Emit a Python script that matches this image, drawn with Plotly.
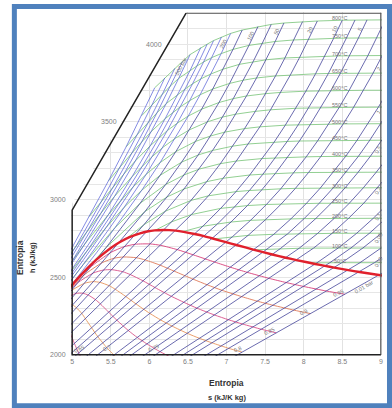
import numpy as np
import plotly.graph_objects as go

# ---------------- data ----------------
ISOBAR_P = [0.01, 0.02, 0.03, 0.05, 0.07, 0.1, 0.2, 0.3, 0.5, 0.7, 1, 2, 3, 5, 7,
            10, 20, 30, 50, 70, 100, 150, 200, 250, 300, 350, 400, 500, 600, 700, 850, 1000]

# temperature (degC) of each isobar point (None = wet-region point)
ISOBAR_T = [
    [None, 7, 50],
    [None, 17.5, 50, 100],
    [None, 24.1, 50, 100],
    [None, 32.9, 50, 100, 150],
    [None, 39.0, 50, 100, 150, 200],
    [None, 45.8, 50, 100, 150, 200, 250],
    [None, 60.1, 100, 150, 200, 250, 300, 350],
    [None, 69.1, 100, 150, 200, 250, 300, 350, 400],
    [None, 81.3, 100, 150, 200, 250, 300, 350, 400, 450],
    [None, 90.0, 100, 150, 200, 250, 300, 350, 400, 450, 500, 550],
    [None, 99.6, 150, 200, 250, 300, 350, 400, 450, 500, 550, 600],
    [None, 120.2, 150, 200, 250, 300, 350, 400, 450, 500, 550, 600, 650, 700],
    [None, 133.5, 150, 200, 250, 300, 350, 400, 450, 500, 550, 600, 650, 700, 750, 800],
    [None, 151.8, 200, 250, 300, 350, 400, 450, 500, 550, 600, 650, 700, 750, 800],
    [None, 165.0, 200, 250, 300, 350, 400, 450, 500, 550, 600, 650, 700, 750, 800],
    [None, 179.9, 200, 250, 300, 350, 400, 450, 500, 550, 600, 650, 700, 750, 800],
    [None, 212.4, 250, 300, 350, 400, 450, 500, 550, 600, 650, 700, 750, 800],
    [None, 233.9, 250, 300, 350, 400, 450, 500, 550, 600, 650, 700, 750, 800],
    [None, 264.0, 300, 350, 400, 450, 500, 550, 600, 650, 700, 750, 800],
    [None, 285.9, 300, 350, 400, 450, 500, 550, 600, 650, 700, 750, 800],
    [None, 311.1, 350, 400, 450, 500, 550, 600, 650, 700, 750, 800],
    [None, 342.2, 350, 400, 450, 500, 550, 600, 650, 700, 750, 800],
    [None, 365.8, 380, 400, 450, 500, 550, 600, 650, 700, 750, 800],
    [375, 400, 425, 450, 500, 550, 600, 650, 700, 750, 800],
    [375, 400, 425, 450, 500, 550, 600, 650, 700, 750, 800],
    [400, 425, 450, 500, 550, 600, 650, 700, 750, 800],
    [400, 425, 450, 500, 550, 600, 650, 700, 750, 800],
    [400, 450, 500, 550, 600, 650, 700, 750, 800],
    [450, 500, 550, 600, 650, 700, 750, 800],
    [450, 500, 550, 600, 650, 700, 750, 800],
    [450, 500, 550, 600, 650, 700, 750, 800],
    [450, 500, 550, 600, 650, 700, 750, 800],
]
ISOBAR_S = [
    [6.785, 8.975, 9.237],
    [6.544, 8.723, 8.917, 9.191],
    [6.405, 8.578, 8.730, 9.004],
    [6.235, 8.395, 8.494, 8.768, 9.008],
    [6.121, 8.276, 8.339, 8.613, 8.853, 9.069],
    [6.004, 8.149, 8.174, 8.448, 8.688, 8.904, 9.100],
    [5.780, 7.907, 8.128, 8.368, 8.584, 8.780, 8.961, 9.129],
    [5.650, 7.769, 7.941, 8.181, 8.397, 8.593, 8.774, 8.942, 9.101],
    [5.490, 7.593, 7.695, 7.940, 8.158, 8.356, 8.538, 8.706, 8.865, 9.013],
    [5.386, 7.479, 7.535, 7.790, 8.006, 8.202, 8.383, 8.551, 8.710, 8.858, 9.000, 9.134],
    [5.280, 7.359, 7.613, 7.834, 8.033, 8.216, 8.385, 8.544, 8.692, 8.834, 8.968, 9.098],
    [5.077, 7.127, 7.280, 7.507, 7.709, 7.893, 8.063, 8.222, 8.370, 8.513, 8.647, 8.777, 8.900, 9.019],
    [4.963, 6.992, 7.078, 7.312, 7.517, 7.703, 7.874, 8.033, 8.182, 8.325, 8.460, 8.589, 8.712, 8.832, 8.945, 9.057],
    [4.825, 6.821, 7.059, 7.271, 7.460, 7.633, 7.794, 7.945, 8.087, 8.222, 8.352, 8.476, 8.595, 8.710, 8.821],
    [4.738, 6.708, 6.882, 7.103, 7.297, 7.472, 7.634, 7.787, 7.929, 8.065, 8.195, 8.320, 8.439, 8.554, 8.665],
    [4.648, 6.587, 6.694, 6.925, 7.123, 7.301, 7.465, 7.619, 7.762, 7.899, 8.029, 8.154, 8.273, 8.388, 8.500],
    [4.488, 6.341, 6.545, 6.766, 6.956, 7.127, 7.285, 7.432, 7.571, 7.702, 7.828, 7.949, 8.065, 8.177],
    [4.404, 6.187, 6.287, 6.539, 6.743, 6.921, 7.083, 7.234, 7.374, 7.508, 7.635, 7.757, 7.874, 7.986],
    [4.309, 5.973, 6.208, 6.449, 6.646, 6.819, 6.976, 7.122, 7.259, 7.389, 7.512, 7.631, 7.744],
    [4.253, 5.813, 5.930, 6.228, 6.448, 6.633, 6.797, 6.947, 7.088, 7.220, 7.345, 7.465, 7.580],
    [4.203, 5.614, 5.944, 6.212, 6.419, 6.597, 6.756, 6.903, 7.040, 7.169, 7.291, 7.408],
    [4.155, 5.310, 5.442, 5.881, 6.140, 6.344, 6.520, 6.678, 6.822, 6.957, 7.084, 7.204],
    [4.129, 4.927, 5.320, 5.554, 5.902, 6.140, 6.335, 6.505, 6.658, 6.799, 6.931, 7.054],
    [4.032, 5.142, 5.472, 5.674, 5.959, 6.176, 6.360, 6.523, 6.671, 6.807, 6.935],
    [3.931, 4.473, 5.150, 5.442, 5.790, 6.034, 6.233, 6.406, 6.561, 6.703, 6.833],
    [4.290, 4.830, 5.190, 5.630, 5.906, 6.122, 6.305, 6.468, 6.616, 6.750],
    [4.114, 4.503, 4.946, 5.470, 5.779, 6.011, 6.205, 6.375, 6.530, 6.666],
    [4.003, 4.588, 5.173, 5.549, 5.818, 6.034, 6.219, 6.380, 6.529],
    [4.44, 4.99, 5.37, 5.67, 5.90, 6.10, 6.27, 6.43],
    [4.30, 4.80, 5.20, 5.53, 5.775, 5.99, 6.17, 6.33],
    [4.22, 4.66, 5.05, 5.375, 5.62, 5.845, 6.035, 6.20],
    [4.15, 4.52, 4.90, 5.22, 5.47, 5.70, 5.90, 6.07],
]
ISOBAR_H = [
    [1900, 2514, 2593],
    [1900, 2533, 2593, 2688],
    [1900, 2545, 2593, 2688],
    [1900, 2561, 2593, 2688, 2783],
    [1900, 2573, 2593, 2688, 2783, 2880],
    [1900, 2585, 2593, 2688, 2783, 2880, 2977],
    [1900, 2610, 2687, 2782, 2880, 2977, 3077, 3177],
    [1900, 2625, 2686, 2782, 2879, 2977, 3076, 3177, 3279],
    [1900, 2646, 2683, 2780, 2878, 2976, 3076, 3176, 3279, 3383],
    [1900, 2660, 2680, 2778, 2877, 2976, 3075, 3176, 3279, 3383, 3488, 3595],
    [1900, 2676, 2776, 2875, 2974, 3074, 3176, 3278, 3382, 3488, 3595, 3704],
    [1900, 2707, 2769, 2871, 2971, 3072, 3174, 3277, 3381, 3487, 3594, 3704, 3815, 3928],
    [1900, 2725, 2761, 2866, 2968, 3069, 3172, 3275, 3379, 3486, 3593, 3703, 3814, 3927, 4042, 4157],
    [1900, 2749, 2855, 2961, 3064, 3168, 3272, 3377, 3484, 3592, 3702, 3813, 3926, 4041, 4157],
    [1900, 2764, 2842, 2952, 3058, 3163, 3268, 3374, 3481, 3590, 3700, 3812, 3925, 4040, 4156],
    [1900, 2778, 2828, 2943, 3051, 3158, 3264, 3371, 3479, 3588, 3698, 3810, 3923, 4038, 4155],
    [1900, 2800, 2903, 3024, 3137, 3248, 3358, 3468, 3578, 3690, 3803, 3917, 4033, 4150],
    [1900, 2804, 2856, 2994, 3115, 3231, 3344, 3457, 3568, 3682, 3796, 3912, 4028, 4146],
    [1900, 2794, 2925, 3068, 3196, 3316, 3434, 3550, 3667, 3783, 3900, 4018, 4137],
    [1900, 2772, 2838, 3016, 3158, 3287, 3410, 3531, 3650, 3769, 3888, 4008, 4128],
    [1900, 2725, 2923, 3097, 3241, 3374, 3501, 3625, 3748, 3871, 3993, 4114],
    [1900, 2611, 2692, 2976, 3156, 3309, 3449, 3582, 3712, 3840, 3967, 4092],
    [1900, 2410, 2660, 2818, 3060, 3238, 3394, 3538, 3675, 3809, 3940, 4070],
    [1848, 2580, 2806, 2950, 3162, 3336, 3491, 3637, 3778, 3914, 4047],
    [1791, 2151, 2614, 2821, 3081, 3275, 3444, 3599, 3746, 3886, 4024],
    [2041, 2406, 2667, 2992, 3212, 3395, 3560, 3713, 3860, 4001],
    [1931, 2198, 2513, 2903, 3149, 3346, 3521, 3681, 3833, 3979],
    [1874, 2284, 2720, 3020, 3248, 3442, 3618, 3780, 3934],
    [2180, 2595, 2910, 3164, 3370, 3559, 3730, 3890],
    [2080, 2470, 2800, 3080, 3300, 3500, 3680, 3845],
    [2035, 2375, 2700, 2985, 3210, 3420, 3610, 3783],
    [1990, 2280, 2600, 2890, 3120, 3340, 3540, 3720],
]

# saturated vapour line
SAT_S = [4.927, 5.053, 5.212, 5.310, 5.492, 5.614, 5.743, 5.890, 5.973, 6.070, 6.187,
         6.257, 6.341, 6.445, 6.586, 6.708, 6.821, 6.992, 7.127, 7.359, 7.593, 7.769,
         7.907, 8.149, 8.276, 8.395, 8.578, 8.723, 8.975, 9.156]
SAT_H = [2410, 2481, 2564, 2611, 2685, 2725, 2758, 2784, 2794, 2801, 2804,
         2803, 2800, 2792, 2778, 2764, 2749, 2725, 2707, 2676, 2646, 2625,
         2610, 2585, 2573, 2561, 2545, 2533, 2514, 2501]

# isotherms
ISOTHERM_T = [50, 100, 150, 200, 250, 300, 350, 400, 450, 500, 550, 600, 650, 700, 750, 800]
ISOTHERM_SAT_S = [8.075, 7.355, 6.837, 6.431, 6.073, 5.705, 5.212] + [None] * 9
ISOTHERM_SAT_H = [2592, 2676, 2746, 2793, 2801, 2749, 2564] + [None] * 9
ISOTHERM_LOWP_H = [2593, 2688, 2783, 2880, 2977, 3077, 3177, 3280, 3384, 3489, 3596, 3705,
                   3816, 3929, 4043, 4159]

# constant-quality lines (wet region)
QUALITY_X = [0.95, 0.9, 0.85, 0.8, 0.75, 0.7, 0.65]
QUALITY_S = [
    [4.881, 5.229, 5.501, 5.678, 5.820, 6.010, 6.145, 6.364, 6.573, 6.847, 7.056, 7.268, 7.553, 7.774, 7.999, 8.300, 8.532],
    [4.836, 5.148, 5.389, 5.544, 5.668, 5.833, 5.951, 6.141, 6.325, 6.567, 6.753, 6.943, 7.200, 7.399, 7.603, 7.877, 8.088],
    [4.790, 5.066, 5.276, 5.409, 5.515, 5.656, 5.756, 5.919, 6.077, 6.287, 6.451, 6.618, 6.846, 7.024, 7.207, 7.454, 7.645],
    [4.744, 4.985, 5.163, 5.275, 5.363, 5.479, 5.561, 5.696, 5.829, 6.008, 6.148, 6.293, 6.492, 6.649, 6.811, 7.031, 7.201],
    [4.699, 4.904, 5.051, 5.140, 5.210, 5.302, 5.367, 5.474, 5.581, 5.728, 5.845, 5.968, 6.138, 6.274, 6.415, 6.608, 6.758],
    [4.823, 4.938, 5.005, 5.057, 5.125, 5.172, 5.252, 5.333, 5.448, 5.542, 5.642, 5.785, 5.899, 6.019],
    [4.905, 4.948, 4.977, 5.029, 5.085, 5.168, 5.239],
]
QUALITY_H = [
    [2381, 2561, 2659, 2697, 2712, 2714, 2705, 2677, 2643, 2597, 2563, 2531, 2492, 2465, 2440, 2410, 2390],
    [2351, 2511, 2593, 2622, 2630, 2625, 2610, 2577, 2538, 2487, 2450, 2415, 2374, 2345, 2319, 2287, 2265],
    [2322, 2461, 2527, 2546, 2548, 2535, 2516, 2476, 2432, 2376, 2337, 2300, 2256, 2226, 2198, 2164, 2141],
    [2293, 2411, 2461, 2471, 2466, 2445, 2421, 2375, 2327, 2266, 2224, 2185, 2138, 2106, 2077, 2041, 2017],
    [2264, 2361, 2395, 2396, 2384, 2355, 2327, 2274, 2222, 2156, 2111, 2070, 2020, 1986, 1955, 1918, 1893],
    [2311, 2330, 2321, 2302, 2266, 2232, 2174, 2116, 2046, 1998, 1954, 1902, 1867, 1834],
    [2220, 2176, 2138, 2073, 2011, 1936, 1885],
]

X_TICKS = [5, 5.5, 6, 6.5, 7, 7.5, 8, 8.5, 9]
X_TICK_TEXT = ["5", "5.5", "6", "6.5", "7", "7.5", "8", "8.5", "9"]
Y_TICKS = [2000, 2500, 3000, 3500, 4000]

# chart frame (cut corner)
S_MIN, S_MAX, H_MIN, H_MAX = 5.0, 9.0, 2000, 4200
CORNER_H = 2932
CORNER_S = 6.476

# label placement lists
TOP_LABEL_P = [500, 200, 100, 50, 20, 10, 5]
TOP_LABEL_TXT = ["500 bar", "200", "100", "50", "20", "10", "5"]
RIGHT_LABEL_P = [2, 1, 0.5, 0.2, 0.1, 0.05, 0.02]
RIGHT_LABEL_TXT = ["2", "1", "0.5", "0.2", "0.1", "0.05", "0.02"]
QUALITY_LABEL_S = [8.45, 8.0, 7.56, 7.15, 6.05, 5.45, 5.09]
ISOTHERM_LABEL_S = 8.47
LOWP_EDGE_S = 9.4

# ---------------- figure ----------------
fig = go.Figure()

BLUE = "rgba(60,60,150,0.9)"
LIGHT_BLUE = "rgba(85,95,215,0.85)"
GREEN = "#86c986"
Q_COLORS = ["#d8407a", "#e07a5a", "#d8508a", "#e8945c", "#d8588a", "#e59a60", "#d86090"]

# isotherms
iso_curves = []
for j, T in enumerate(ISOTHERM_T):
    pts = []
    if ISOTHERM_SAT_S[j] is not None:
        pts.append((ISOTHERM_SAT_S[j], ISOTHERM_SAT_H[j]))
    for k in range(len(ISOBAR_P)):
        for t, s, h in zip(ISOBAR_T[k], ISOBAR_S[k], ISOBAR_H[k]):
            if t is not None and t == T:
                pts.append((s, h))
    pts.append((LOWP_EDGE_S, ISOTHERM_LOWP_H[j]))
    pts.sort()
    xs = [p[0] for p in pts]
    ys = [p[1] for p in pts]
    iso_curves.append((xs, ys))
    fig.add_trace(go.Scatter(x=xs, y=ys, mode="lines",
                             line=dict(color=GREEN, width=0.9), hoverinfo="skip"))

# quality lines
for i, q in enumerate(QUALITY_X):
    fig.add_trace(go.Scatter(x=QUALITY_S[i], y=QUALITY_H[i], mode="lines",
                             line=dict(color=Q_COLORS[i], width=0.9, shape="spline", smoothing=0.6),
                             hoverinfo="skip"))

# isobars
for k, p in enumerate(ISOBAR_P):
    col = LIGHT_BLUE if p >= 200 else BLUE
    fig.add_trace(go.Scatter(x=ISOBAR_S[k], y=ISOBAR_H[k], mode="lines",
                             line=dict(color=col, width=0.85), hoverinfo="skip"))

# saturation line
fig.add_trace(go.Scatter(x=SAT_S, y=SAT_H, mode="lines",
                         line=dict(color="#e0202c", width=2.4, shape="spline", smoothing=0.6),
                         hoverinfo="skip"))

# ---------------- shapes ----------------
shapes = [
    dict(type="path", xref="x", yref="y", layer="above",
         path=f"M {S_MIN-0.05},{CORNER_H} L {CORNER_S},{H_MAX} L {CORNER_S},{H_MAX+60} L {S_MIN-0.05},{H_MAX+60} Z",
         fillcolor="white", line=dict(width=0)),
    dict(type="path", xref="x", yref="y", layer="above",
         path=f"M {CORNER_S},{H_MAX} L {S_MAX},{H_MAX} L {S_MAX},{H_MIN}",
         line=dict(color="#555555", width=1.2)),
    dict(type="path", xref="x", yref="y", layer="above",
         path=f"M {S_MAX},{H_MIN} L {S_MIN},{H_MIN} L {S_MIN},{CORNER_H} L {CORNER_S},{H_MAX}",
         line=dict(color="#222222", width=1.5)),
    dict(type="rect", xref="paper", yref="paper", x0=-0.1821, x1=1.0241, y0=-0.1448, y1=1.016,
         line=dict(color="#4f81bd", width=5), fillcolor="rgba(0,0,0,0)", layer="above"),
]

ann = []
tick_font = dict(size=7, color="#808080", family="Liberation Sans, Arial, sans-serif")
lbl_font = dict(size=5.5, color="#767676", family="Liberation Sans, Arial, sans-serif")

# y tick labels follow the cut frame
for h in Y_TICKS:
    if h <= CORNER_H + 100:
        s_edge = S_MIN
    else:
        s_edge = S_MIN + (h - CORNER_H) / (H_MAX - CORNER_H) * (CORNER_S - S_MIN)
    ann.append(dict(x=s_edge, y=h, xref="x", yref="y", text=str(h), showarrow=False,
                    xanchor="right", yanchor="middle", xshift=-4, font=tick_font))

# isotherm labels
for j, T in enumerate(ISOTHERM_T):
    xs, ys = iso_curves[j]
    hy = float(np.interp(ISOTHERM_LABEL_S, xs, ys))
    ann.append(dict(x=ISOTHERM_LABEL_S, y=hy, xref="x", yref="y", text=f"{T}°C", showarrow=False,
                    yshift=2, font=lbl_font))

# isobar labels near the 800 degC line
for p, txt in zip(TOP_LABEL_P, TOP_LABEL_TXT):
    k = ISOBAR_P.index(p)
    s1, s2 = ISOBAR_S[k][-2], ISOBAR_S[k][-1]
    h1, h2 = ISOBAR_H[k][-2], ISOBAR_H[k][-1]
    ann.append(dict(x=(s1 + s2) / 2, y=(h1 + h2) / 2, xref="x", yref="y", text=txt, showarrow=False,
                    textangle=-62, font=lbl_font, xshift=-3))

# isobar labels on the right edge
for p, txt in zip(RIGHT_LABEL_P, RIGHT_LABEL_TXT):
    k = ISOBAR_P.index(p)
    hy = float(np.interp(8.93, ISOBAR_S[k], ISOBAR_H[k]))
    ann.append(dict(x=8.93, y=hy, xref="x", yref="y", text=txt, showarrow=False,
                    textangle=-60, font=lbl_font, xshift=3))
k01 = ISOBAR_P.index(0.01)
ann.append(dict(x=8.78, y=float(np.interp(8.78, ISOBAR_S[k01], ISOBAR_H[k01])), xref="x", yref="y",
                text="0.01 bar", showarrow=False, textangle=-30, font=lbl_font, yshift=-4))

# quality labels
for i, q in enumerate(QUALITY_X):
    sx = QUALITY_LABEL_S[i]
    order = np.argsort(QUALITY_S[i])
    hy = float(np.interp(sx, np.array(QUALITY_S[i])[order], np.array(QUALITY_H[i])[order]))
    ann.append(dict(x=sx, y=max(hy, 2035), xref="x", yref="y", text=str(q), showarrow=False,
                    textangle=-25, font=lbl_font))

# axis titles
title_font = dict(size=8.5, color="#333333", family="Liberation Sans, Arial, sans-serif")
ann.append(dict(x=0.5, y=-0.0785, xref="paper", yref="paper", text="<b>Entropia</b>",
                showarrow=False, font=title_font, yanchor="middle"))
ann.append(dict(x=0.5, y=-0.122, xref="paper", yref="paper", text="<b>s (kJ/K kg)</b>",
                showarrow=False, font=dict(size=7.5, color="#333333", family="Liberation Sans, Arial, sans-serif"),
                yanchor="middle"))
ann.append(dict(x=-0.1638, y=0.285, xref="paper", yref="paper", text="<b>Entropia</b>",
                showarrow=False, textangle=-90, font=title_font, xanchor="center", yanchor="middle"))
ann.append(dict(x=-0.122, y=0.285, xref="paper", yref="paper", text="<b>h (kJ/kg)</b>",
                showarrow=False, textangle=-90, font=dict(size=7.5, color="#333333", family="Liberation Sans, Arial, sans-serif"),
                xanchor="center", yanchor="middle"))

fig.update_layout(
    width=392, height=408,
    margin=dict(l=71, r=10, t=12, b=52),
    paper_bgcolor="white", plot_bgcolor="white",
    showlegend=False, shapes=shapes, annotations=ann,
    font=dict(family="Liberation Sans, Arial, sans-serif"),
)
fig.update_xaxes(range=[4.985, 9.015], tickmode="array", tickvals=X_TICKS, ticktext=X_TICK_TEXT,
                 showgrid=True, gridcolor="#e2e2e2", gridwidth=0.8, zeroline=False, showline=False,
                 ticks="", tickfont=tick_font, fixedrange=True)
fig.update_yaxes(range=[1992, 4208], tickmode="array", tickvals=list(range(2000, 4201, 100)),
                 showticklabels=False, showgrid=True, gridcolor="#e6e6e6", gridwidth=0.8,
                 zeroline=False, showline=False, ticks="", fixedrange=True)

fig.write_html("out.html", config={"displayModeBar": False},
               post_script="document.body.style.margin='0';document.body.style.overflow='hidden';")
